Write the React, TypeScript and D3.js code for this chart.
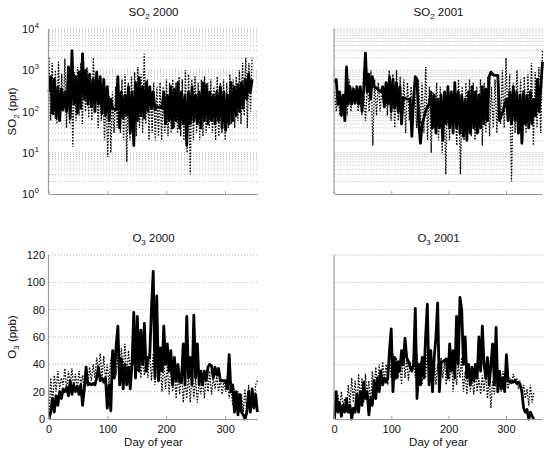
import React from "react";
import * as d3 from "d3";

const X_TICKS = [0, 100, 200, 300];
const LOG_TICKS = [1, 10, 100, 1000, 10000];
const LIN_TICKS = [0, 20, 40, 60, 80, 100, 120];

// last day of year covered by each record
const END_SO2_2000 = 345;
const END_SO2_2001 = 363;
const END_O3_2000 = 354;
const END_O3_2001 = 348;

const so2_2000_solid = [300,700,90,600,70,400,60,350,110,300,100,1200,70,3000,150,700,90,900,120,2500,200,1000,150,800,130,600,100,900,150,700,90,600,80,400,60,200,120,115,110,700,40,300,70,250,80,400,30,300,15,500,60,650,80,400,70,500,100,400,120,300,110,130,125,130,120,300,50,250,60,400,40,350,60,500,40,300,50,250,15,300,50,400,60,250,50,300,40,500,60,450,50,300,60,250,50,300,60,400,40,300,35,250,50,500,60,400,80,450,100,500,120,600,200,800,300,600];
const so2_2000_dot = [2000,60,1500,80,1000,50,1600,60,800,100,1900,40,1200,50,1000,14,900,60,1200,80,1500,50,1000,100,1200,70,800,60,2000,100,900,40,700,60,400,20,300,8,250,10,300,30,400,40,300,30,600,20,800,6,500,20,700,30,900,25,1200,40,800,30,2500,50,600,20,400,30,500,20,400,25,500,20,400,30,600,25,500,30,600,40,500,30,700,25,600,20,1000,10,800,3,600,20,700,30,500,20,600,25,700,30,500,40,600,30,400,20,700,25,500,30,600,20,500,40,800,50,600,40,700,60,1000,50,1500,80,2000,40,1500,100,2000];
const so2_2001_solid = [500,600,150,300,80,250,60,1200,150,400,150,350,160,400,150,400,100,350,2600,300,800,200,700,400,380,350,320,300,400,130,500,150,700,100,600,120,500,100,400,50,220,210,200,200,200,25,200,700,600,50,17,50,70,100,130,150,300,40,250,30,200,40,250,20,300,50,400,40,300,30,500,40,300,30,250,25,200,20,300,30,400,40,300,30,250,40,400,50,350,60,700,900,800,750,750,750,60,80,100,150,200,60,300,50,400,60,300,30,250,17,300,50,250,40,300,50,200,80,600,100,400,1600];
const so2_2001_dot = [300,100,250,80,200,100,300,80,600,100,400,150,300,100,400,80,300,60,500,100,1000,15,600,80,500,100,400,150,500,80,1000,60,800,40,1000,60,700,50,600,30,500,60,400,80,300,40,600,50,500,30,1200,20,400,10,300,40,500,20,400,10,300,3,400,20,300,30,500,15,600,3,400,20,500,30,600,25,500,20,400,30,600,15,500,30,700,25,400,40,600,30,500,50,1000,40,2000,60,800,2,500,30,1000,40,600,20,700,30,800,50,1500,15,900,40,1200,30,3000];
const o3_2000_solid = [0,5,15,5,17,10,20,15,22,20,23,17,28,18,25,20,24,18,25,10,22,38,25,26,25,26,25,30,38,28,30,27,30,8,25,6,50,30,53,68,25,44,22,40,25,38,22,40,78,30,75,35,65,40,70,35,45,45,80,108,30,90,28,52,35,68,40,55,35,50,25,45,28,40,27,27,55,25,75,30,45,25,76,30,55,25,35,25,35,28,38,40,39,30,38,32,37,28,28,28,28,22,47,20,25,5,20,3,18,5,3,0,5,20,5,22,8,18,5];
const o3_2000_dot = [0,30,10,32,20,35,22,30,25,37,20,35,25,37,22,33,20,35,25,32,20,35,25,38,28,40,30,45,35,48,30,46,28,40,25,45,30,50,32,48,35,52,35,55,30,50,35,48,40,52,35,48,30,45,32,45,30,50,28,48,25,45,30,40,20,42,22,40,18,38,20,35,15,35,18,38,12,30,15,32,12,35,15,30,12,28,18,30,15,32,20,35,18,30,22,32,20,30,18,28,20,32,15,25,10,22,8,20,5,18,5,22,3,25,8,22,10,25,28];
const o3_2001_solid = [0,20,5,12,2,10,5,15,5,10,0,8,5,18,5,20,10,27,15,20,3,15,10,28,15,30,20,35,25,30,27,30,50,66,20,45,30,42,35,50,40,59,45,42,38,35,40,81,15,40,25,45,30,60,84,25,50,20,45,60,85,20,42,42,43,44,30,55,35,50,30,75,40,89,80,40,60,30,40,25,38,28,40,30,60,35,68,40,30,45,25,40,55,25,67,20,35,22,30,20,47,28,27,28,27,28,26,27,25,20,8,5,7,0,5,2,0];
const o3_2001_dot = [20,5,18,8,20,10,15,5,25,10,30,12,28,8,33,15,30,12,33,18,28,10,35,20,38,22,40,25,42,28,40,25,45,30,48,28,45,30,42,25,48,30,45,28,42,35,45,30,48,28,42,25,45,30,50,25,42,20,45,25,40,28,45,30,42,25,40,28,45,20,38,25,40,30,45,20,35,18,38,20,32,18,35,20,30,18,32,20,35,15,30,8,28,18,32,20,30,20,35,25,32,22,30,25,33,28,30,22,28,18,25,15,22,10,25,12,20];

const FONT = "'Liberation Sans', Arial, Helvetica, sans-serif";
const GRID = "#b0b0b0";
const AXIS = "#9a9a9a";

type PanelProps = {
  x0: number; x1: number; y0: number; y1: number;
  xMax: number;
  endDay: number;
  log: boolean;
  title: [string, string, string];
  yLabel?: [string, string, string];
  solid: number[];
  dotted: number[];
  showXLabels: boolean;
  showYLabels: boolean;
};

function Panel(p: PanelProps) {
  const x = d3.scaleLinear().domain([0, p.xMax]).range([p.x0, p.x1]);
  const y = p.log
    ? d3.scaleLog().domain([1, 10000]).range([p.y1, p.y0])
    : d3.scaleLinear().domain([0, 120]).range([p.y1, p.y0]);
  const gridVals: number[] = [];
  if (p.log) {
    for (let k = 0; k < 4; k++) {
      for (let m = 1; m <= 9; m++) {
        const v = m * Math.pow(10, k);
        if (v > 1) gridVals.push(v);
      }
    }
    gridVals.push(10000);
  } else {
    LIN_TICKS.filter((v) => v > 0).forEach((v) => gridVals.push(v));
  }
  const mk = (arr: number[]) =>
    d3
      .line<number>()
      .x((_, i) => x((i * p.endDay) / (arr.length - 1)))
      .y((v) => y(p.log ? Math.max(v, 1) : v))(arr) || "";
  const cx = (p.x0 + p.x1) / 2;
  const cy = (p.y0 + p.y1) / 2;
  return (
    <g fontFamily={FONT}>
      {gridVals.map((v) => (
        <line key={"g" + v} x1={p.x0} x2={p.x1} y1={y(v)} y2={y(v)} stroke={GRID} strokeWidth={1} strokeDasharray="1,2" />
      ))}
      <path d={mk(p.dotted)} fill="none" stroke="#000" strokeWidth={1.3} strokeDasharray="1.5,1.5" />
      <path d={mk(p.solid)} fill="none" stroke="#000" strokeWidth={2.8} strokeLinejoin="round" />
      <line x1={p.x0} x2={p.x1} y1={p.y1 + 0.5} y2={p.y1 + 0.5} stroke={AXIS} strokeWidth={1.2} />
      <line x1={p.x0 - 0.5} x2={p.x0 - 0.5} y1={p.y0} y2={p.y1} stroke={AXIS} strokeWidth={1.2} />
      {X_TICKS.map((t) => (
        <g key={"xt" + t}>
          <line x1={x(t)} x2={x(t)} y1={p.y1} y2={p.y1 - 3} stroke={AXIS} />
          {p.showXLabels && (
            <text x={x(t)} y={p.y1 + 14} textAnchor="middle" fontSize={11} fill="#111">{t}</text>
          )}
        </g>
      ))}
      {p.showXLabels && (
        <text x={cx} y={p.y1 + 27} textAnchor="middle" fontSize={11.5} fill="#111">Day of year</text>
      )}
      {p.showYLabels && p.log && LOG_TICKS.map((t) => (
        <text key={"yt" + t} x={p.x0 - 10} y={y(t) + 4} textAnchor="end" fontSize={11} fill="#111">
          10
          <tspan dx={0.5} dy={-5} fontSize={7.5}>{Math.round(Math.log10(t))}</tspan>
        </text>
      ))}
      {p.showYLabels && !p.log && LIN_TICKS.map((t) => (
        <text key={"yt" + t} x={p.x0 - 4} y={y(t) + 4} textAnchor="end" fontSize={11} fill="#111">{t}</text>
      ))}
      {p.yLabel && (
        <text transform={`translate(${p.x0 - 33},${cy}) rotate(-90)`} textAnchor="middle" fontSize={11.5} fill="#111">
          {p.yLabel[0]}
          <tspan dy={3} fontSize={8}>{p.yLabel[1]}</tspan>
          <tspan dy={-3}>{p.yLabel[2]}</tspan>
        </text>
      )}
      <text x={cx} y={p.y0 - 13} textAnchor="middle" fontSize={11.5} fill="#111">
        {p.title[0]}
        <tspan dy={3} fontSize={8}>{p.title[1]}</tspan>
        <tspan dy={-3}>{p.title[2]}</tspan>
      </text>
    </g>
  );
}

export default function App() {
  const L = { x0: 49, x1: 258, xMax: 355 };
  const R = { x0: 334.5, x1: 542.5, xMax: 363 };
  const T = { y0: 29, y1: 194 };
  const B = { y0: 255, y1: 419 };
  return (
    <svg width={552} height={455} style={{ position: "fixed", left: 0, top: 0, background: "#fff" }}>
      <rect width={552} height={455} fill="#fff" />
      <Panel {...L} {...T} endDay={END_SO2_2000} log={true} title={["SO", "2", " 2000"]} yLabel={["SO", "2", " (ppt)"]}
        solid={so2_2000_solid} dotted={so2_2000_dot} showXLabels={false} showYLabels={true} />
      <Panel {...R} {...T} endDay={END_SO2_2001} log={true} title={["SO", "2", " 2001"]}
        solid={so2_2001_solid} dotted={so2_2001_dot} showXLabels={false} showYLabels={false} />
      <Panel {...L} {...B} endDay={END_O3_2000} log={false} title={["O", "3", " 2000"]} yLabel={["O", "3", " (ppb)"]}
        solid={o3_2000_solid} dotted={o3_2000_dot} showXLabels={true} showYLabels={true} />
      <Panel {...R} {...B} endDay={END_O3_2001} log={false} title={["O", "3", " 2001"]}
        solid={o3_2001_solid} dotted={o3_2001_dot} showXLabels={true} showYLabels={false} />
    </svg>
  );
}
